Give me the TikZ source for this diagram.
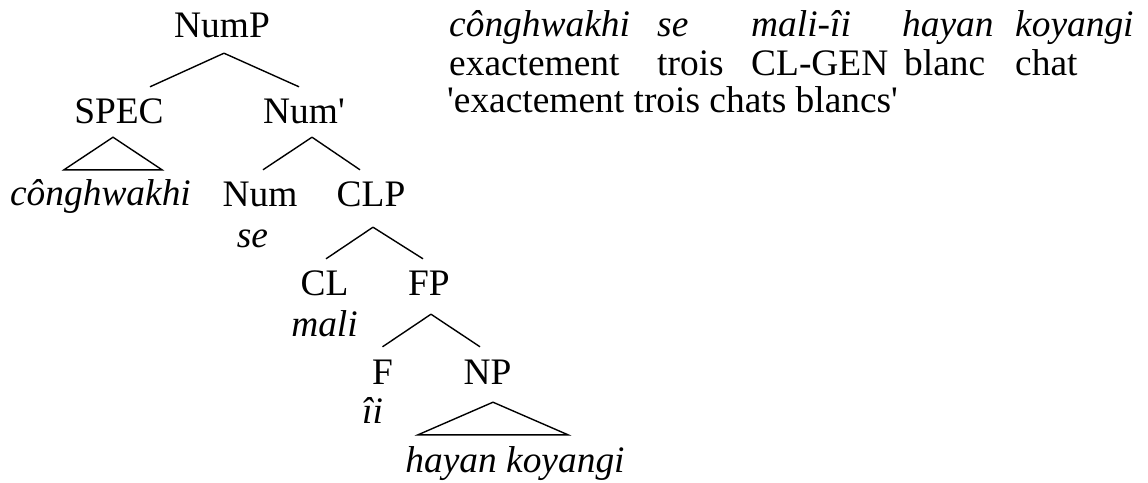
\documentclass[tikz,border=0pt]{standalone}
\usepackage{fontspec}
\setmainfont{Liberation Serif}
\usetikzlibrary{positioning}
\tikzset{
	x=1pt, y=1pt, % one unit is one pixel of the layout
	on grid, % distances are measured between node centres
	every node/.style={inner sep=0pt, font=\fontsize{37.4pt}{44pt}\selectfont}, % no padding round the labels
	cat/.style={text height=23pt, text depth=8pt}, % every tree label gets the same box
	word/.style={cat, font=\fontsize{37.4pt}{44pt}\selectfont\itshape}, % italic words
	branch/.style={line width=1.4pt}, % the tree lines
}
\begin{document}
\begin{tikzpicture}
	\useasboundingbox (0,0) rectangle (1148,-482);
	% the tree
	\node[cat] (numP) at (222,-29.5) {NumP};
	\node[cat, below left=86pt and 103pt of numP] (spec) {SPEC};
	\node[cat, below right=86pt and 82pt of numP] (numbar) {Num\textquotesingle};
	\node[word, below left=82pt and 18.5pt of spec] (conghwa) {cônghwakhi};
	\node[cat, below left=83pt and 44pt of numbar] (num) {Num};
	\node[cat, below right=83pt and 67pt of numbar] (clp) {CLP};
	\node[word, below left=41pt and 7.5pt of num] (se) {se};
	\node[cat, below left=89pt and 46.5pt of clp] (cl) {CL};
	\node[cat, below right=89pt and 58pt of clp] (fp) {FP};
	\node[word, below=41pt of cl] (mali) {mali};
	\node[cat, below left=89pt and 46.5pt of fp] (f) {F};
	\node[cat, below right=89pt and 58.5pt of fp] (np) {NP};
	\node[word, below left=39pt and 10pt of f] (ii) {îi};
	\node[word, below right=88pt and 27.5pt of np] (hayan) {hayan koyangi};
	\draw[branch] ([shift={(2,-8)}]numP.south) edge ([shift={(31,13)}]spec.north)
			([shift={(2,-8)}]numP.south) edge ([shift={(-5,13)}]numbar.north)
			([shift={(8,-6)}]numbar.south) edge ([shift={(3,13)}]num.north)
			([shift={(8,-6)}]numbar.south) edge ([shift={(-11,13)}]clp.north)
			([shift={(2,-13)}]clp.south) edge ([shift={(1.5,13)}]cl.north)
			([shift={(2,-13)}]clp.south) edge ([shift={(-6,13)}]fp.north)
			([shift={(2,-11)}]fp.south) edge ([shift={(0,14)}]f.north)
			([shift={(2,-11)}]fp.south) edge ([shift={(-7.5,14)}]np.north);
	% triangles
	\draw[branch] ([shift={(-6,-6)}]spec.south) -- ([shift={(-36.5,12)}]conghwa.north)
			-- ([shift={(61.5,12)}]conghwa.north) -- cycle;
	\draw[branch] ([shift={(5.5,-10)}]np.south) -- ([shift={(-97,14)}]hayan.north)
			-- ([shift={(53,14)}]hayan.north) -- cycle;
	% the gloss
	\node[word, anchor=base west] (w1) at (449,-36) {cônghwakhi};
	\node[word, anchor=base west] (w2) at (657,-36) {se};
	\node[word, anchor=base west] (w3) at (751,-36) {mali-îi};
	\node[word, anchor=base west] (w4) at (902,-36) {hayan};
	\node[word, anchor=base west] (w5) at (1015,-36) {koyangi};
	\node[anchor=base west] (g1) at (449,-75) {exactement};
	\node[anchor=base west] (g2) at (657,-75) {trois};
	\node[anchor=base west] (g3) at (751,-75) {CL-GEN};
	\node[anchor=base west] (g4) at (904,-75) {blanc};
	\node[anchor=base west] (g5) at (1015,-75) {chat};
	\node[anchor=base west] (tr) at (447,-112) {\textquotesingle exactement trois chats blancs\textquotesingle};
\end{tikzpicture}
\end{document}
